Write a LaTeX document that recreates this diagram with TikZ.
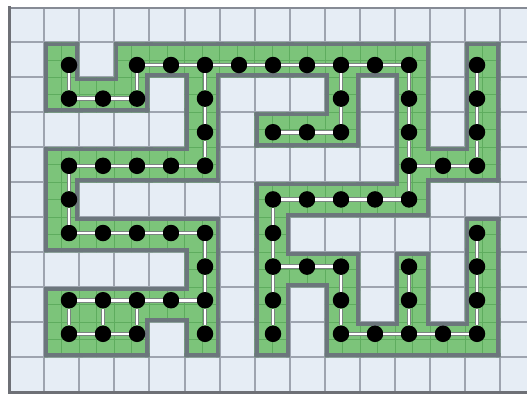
\documentclass[tikz,border=0pt]{standalone}
\definecolor{cellbg}{HTML}{E6EDF5}
\definecolor{gridln}{HTML}{9EA4AF}
\definecolor{framedark}{HTML}{6E7076}
\definecolor{greenfill}{HTML}{7CC47A}
\definecolor{greenline}{HTML}{5EAC5E}
\definecolor{edgegray}{HTML}{6C767C}
\definecolor{linkedge}{HTML}{7A8480}
\def\cells{1/1,3/1,4/1,5/1,6/1,7/1,8/1,9/1,10/1,11/1,13/1,%
1/2,2/2,3/2,5/2,9/2,11/2,13/2,%
5/3,7/3,8/3,9/3,11/3,13/3,%
1/4,2/4,3/4,4/4,5/4,11/4,12/4,13/4,%
1/5,7/5,8/5,9/5,10/5,11/5,%
1/6,2/6,3/6,4/6,5/6,7/6,13/6,%
5/7,7/7,8/7,9/7,11/7,13/7,%
1/8,2/8,3/8,4/8,5/8,7/8,9/8,11/8,13/8,%
1/9,2/9,3/9,5/9,7/9,9/9,10/9,11/9,12/9,13/9}
\tikzset{
  dot/.style={circle, fill=black, draw=none, inner sep=0pt, minimum size=16.5pt},
  link/.style={draw=linkedge, line width=1pt, double=white, double distance=2.6pt},
  gridline/.style={draw=gridln, line width=2pt},
  edgeline/.style={draw=edgegray, line width=8pt},
  texture/.style={draw=greenline, line width=0.8pt}
}
\begin{document}
\begin{tikzpicture}[x=1pt,y=-1pt]
\useasboundingbox (0,0) rectangle (527,394);
\clip (0,0) rectangle (527,394);
\fill[white] (0,0) rectangle (527,394);
% background grid
\fill[cellbg] (9,7.5) rectangle (540,392);
\foreach \k in {1,...,14} \draw[gridline] ({9+35.1*\k},7.5) -- ({9+35.1*\k},392);
\foreach \k in {1,...,10} \draw[gridline] (9,{7.5+34.95*\k}) -- (540,{7.5+34.95*\k});
\draw[gridln!85!black, line width=2pt] (9,7.5) -- (540,7.5);
\draw[framedark, line width=3pt] (9,6) -- (9,392) -- (540,392);
% green cells flags
\foreach \c/\r in \cells {\expandafter\gdef\csname gc-\c-\r\endcsname{}}
% green region
\begin{scope}
\clip \foreach \c/\r in \cells { ({9+35.1*\c},{7.5+34.95*\r}) rectangle ({9+35.1*(\c+1)},{7.5+34.95*(\r+1)}) };
\fill[greenfill] (0,0) rectangle (527,394);
\foreach \k in {1,...,29} \draw[texture] ({9+17.55*\k},0) -- ({9+17.55*\k},394);
\foreach \k in {1,...,21} \draw[texture] (0,{7.5+17.475*\k}) -- (527,{7.5+17.475*\k});
\foreach \r in {0,...,10} {
  \foreach \c in {0,...,14} {
    \ifcsname gc-\c-\r\endcsname\else
      \draw[edgeline] ({9+35.1*\c},{7.5+34.95*\r}) rectangle ({9+35.1*(\c+1)},{7.5+34.95*(\r+1)});
    \fi
  }
}
\end{scope}
% dots
\foreach \c/\r in \cells \node[dot] (d-\c-\r) at ({69+34*(\c-1)},{65+33.6*(\r-1)}) {};
% horizontal connectors: row/from/to
\foreach \r/\p/\q in {1/3/4,1/4/5,1/5/6,1/6/7,1/7/8,1/8/9,1/9/10,1/10/11,%
2/1/2,2/2/3,3/7/8,3/8/9,4/1/2,4/2/3,4/3/4,4/4/5,4/11/12,4/12/13,%
5/7/8,5/8/9,5/9/10,5/10/11,6/1/2,6/2/3,6/3/4,6/4/5,7/7/8,7/8/9,%
8/1/2,8/2/3,8/3/4,8/4/5,9/1/2,9/2/3,9/9/10,9/10/11,9/11/12,9/12/13}
  \draw[link] (d-\p-\r) -- (d-\q-\r);
% vertical connectors: column/from/to
\foreach \c/\p/\q in {1/1/2,1/4/5,1/5/6,1/8/9,2/8/9,3/1/2,3/8/9,%
5/1/2,5/2/3,5/3/4,5/6/7,5/7/8,5/8/9,7/5/6,7/6/7,7/7/8,7/8/9,%
9/1/2,9/2/3,9/7/8,9/8/9,11/1/2,11/2/3,11/3/4,11/4/5,11/7/8,11/8/9,%
13/1/2,13/2/3,13/3/4,13/6/7,13/7/8,13/8/9}
  \draw[link] (d-\c-\p) -- (d-\c-\q);
\end{tikzpicture}
\end{document}
